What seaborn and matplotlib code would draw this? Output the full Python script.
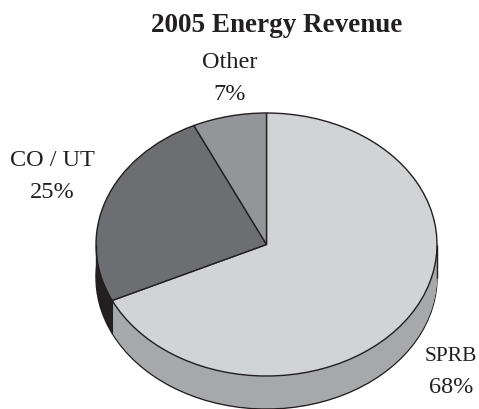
import numpy as np
import matplotlib.pyplot as plt
import seaborn as sns

# 2005 energy revenue, clockwise from 12 o'clock
labels = ["SPRB", "CO / UT", "Other"]
shares = [68, 25, 7]
top_colors = ["#d1d3d4", "#6d6e71", "#939598"]
side_colors = ["#a7a8aa", "#231f20", "#58595b"]

sns.set_theme(style="white")
plt.rcParams["font.family"] = ["Liberation Serif", "DejaVu Serif"]

W, H = 479, 409
fig = plt.figure(figsize=(W / 100, H / 100), dpi=100)
ax = fig.add_axes([0, 0, 1, 1])

# pie geometry in pixels, pie is squashed through the axis limits
cx, cy, rx, ry = 266.5, 244.5, 170.5, 131.5
depth = 33 / ry
ink = "#231f20"

# side wall: stack of pies, lowest one carries the outline
pie_args = dict(startangle=90, counterclock=False, colors=side_colors)
ax.pie(shares, center=(0, -depth), wedgeprops=dict(edgecolor=ink, linewidth=1.0), **pie_args)
for d in np.linspace(depth - 0.008, 0.008, 36):
    ax.pie(shares, center=(0, -d), wedgeprops=dict(linewidth=0), **pie_args)

# vertical edges of the wall
ax.vlines([-1, 1], -depth, 0, color=ink, lw=1.0)
theta = np.deg2rad(90 - 360 * shares[0] / sum(shares))
edge_x, edge_y = np.cos(theta), np.sin(theta)
ax.vlines(edge_x, edge_y - depth, edge_y, color=ink, lw=0.8)

# top face
ax.pie(shares, startangle=90, counterclock=False, colors=top_colors,
       wedgeprops=dict(edgecolor=ink, linewidth=1.0))

ax.set_aspect("auto")
ax.set_xlim((0 - cx) / rx, (W - cx) / rx)
ax.set_ylim((cy - H) / ry, cy / ry)
ax.axis("off")

# text placed by baseline in pixels from the top left
def put(x, y, s, **kw):
    fig.text(x / W, 1 - y / H, s, ha="center", va="baseline", color=ink, **kw)

put(276.5, 32, "2005 Energy Revenue", fontsize=19.5, fontweight="bold")
# SPRB is a bit smaller so it stays inside the right edge
for name, share, x, y, size in zip(labels, shares, [451, 52, 229.5], [361, 166, 68], [15.5, 17.5, 17.5]):
    put(x, y, name, fontsize=size)
    put(x, y + 32, f"{share}%", fontsize=17.5)

fig.savefig("out.png", dpi=100, facecolor="white")
